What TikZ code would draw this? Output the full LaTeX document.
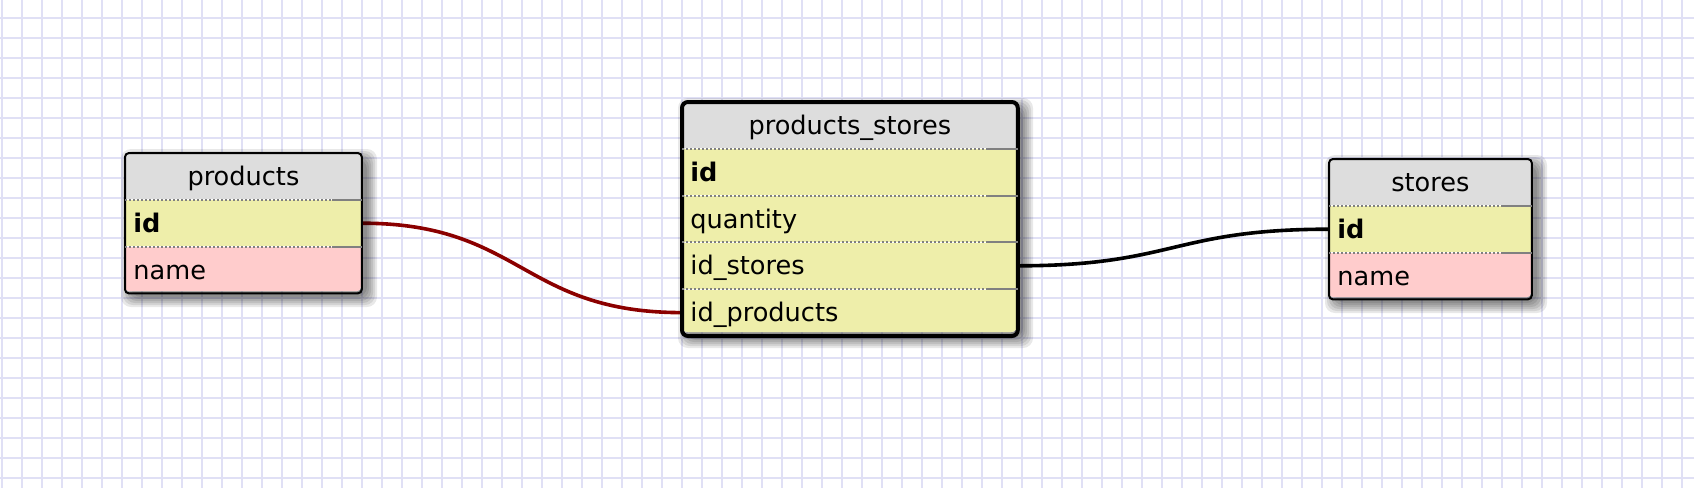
\documentclass[tikz,border=0pt]{standalone}
\usepackage{fontspec}
\setmainfont{DejaVu Sans}
\usetikzlibrary{positioning}

\definecolor{lavanda}{RGB}{224,224,245}
\definecolor{testata}{RGB}{221,221,221}
\definecolor{chiave}{RGB}{238,238,170}
\definecolor{rosa}{RGB}{255,204,204}
\definecolor{grigiosep}{RGB}{128,128,128}
\definecolor{rossoscuro}{RGB}{139,0,0}

\pgfdeclarelayer{sfondo}
\pgfsetlayers{sfondo,main}

\tikzset{
  rete/.style={lavanda, line width=1pt},
  titolo/.style={rectangle, fill=testata, inner sep=0pt, minimum height=23pt,
    text height=10.5pt, text depth=1.5pt, anchor=north west},
  campo/.style={rectangle, inner sep=0pt, inner xsep=4pt, minimum height=23pt,
    text height=10.5pt, text depth=1.5pt, align=left},
  ombra/.style={black, fill opacity=0.09, rounded corners=5pt},
  bordo/.style={black, line width=1pt, rounded corners=2pt},
  sepdot/.style={grigiosep, line width=1pt, dash pattern=on 1pt off 1pt},
  sepline/.style={grigiosep, line width=1pt},
  rel/.style={line width=1.8pt}
}

\begin{document}
\begin{tikzpicture}[x=0.5pt,y=-0.5pt,font=\fontsize{12.8}{15}\selectfont]

\useasboundingbox (0,0) rectangle (1694,488);

\begin{pgfonlayer}{sfondo}
\fill[white] (0,0) rectangle (1694,488);
\foreach \x in {2,22,...,1682} \draw[rete] (\x,0) -- (\x,488);
\foreach \y in {18,38,...,478} \draw[rete] (0,\y) -- (1694,\y);
\end{pgfonlayer}

% products
\coordinate (p) at (125,153);
\foreach \d in {0,2,...,10} \fill[ombra] ([shift={(6-\d,6-\d)}]p) rectangle ++(236+2*\d,138+2*\d);
\fill[white, rounded corners=2pt] (p) rectangle ++(236,138);
\begin{scope}
\clip[rounded corners=2pt] (p) rectangle ++(236,138);
\node[titolo, minimum width=118pt] (p-title) at (p) {products};
\node[campo, fill=chiave, text width=110pt, below=0pt of p-title] (p-id) {\textbf{id}};
\node[campo, fill=rosa, text width=110pt, below=0pt of p-id] (p-name) {name};
\end{scope}
\draw[bordo] (p-title.north west) rectangle (p-name.south east);

% products_stores
\coordinate (ps) at (682,102);
\foreach \d in {0,2,...,10} \fill[ombra] ([shift={(6-\d,6-\d)}]ps) rectangle ++(335+2*\d,230+2*\d);
\fill[white, rounded corners=3pt] (ps) rectangle ++(335,230);
\begin{scope}
\clip[rounded corners=3pt] (ps) rectangle ++(335,230);
\node[titolo, minimum width=167.5pt] (ps-title) at (ps) {products\_stores};
\node[campo, fill=chiave, text width=159.5pt, below=0pt of ps-title] (ps-id) {\textbf{id}};
\node[campo, fill=chiave, text width=159.5pt, below=0pt of ps-id] (ps-quantity) {quantity};
\node[campo, fill=chiave, text width=159.5pt, below=0pt of ps-quantity] (ps-idstores) {id\_stores};
\node[campo, fill=chiave, text width=159.5pt, below=0pt of ps-idstores] (ps-idproducts) {id\_products};
\end{scope}
\draw[bordo, line width=2pt, rounded corners=3pt] (ps-title.north west) rectangle (ps-idproducts.south east);

% stores
\coordinate (s) at (1329,159);
\foreach \d in {0,2,...,10} \fill[ombra] ([shift={(6-\d,6-\d)}]s) rectangle ++(202+2*\d,138+2*\d);
\fill[white, rounded corners=2pt] (s) rectangle ++(202,138);
\begin{scope}
\clip[rounded corners=2pt] (s) rectangle ++(202,138);
\node[titolo, minimum width=101pt] (s-title) at (s) {stores};
\node[campo, fill=chiave, text width=93pt, below=0pt of s-title] (s-id) {\textbf{id}};
\node[campo, fill=rosa, text width=93pt, below=0pt of s-id] (s-name) {name};
\end{scope}
\draw[bordo] (s-title.north west) rectangle (s-name.south east);

% separatori tra i campi
\foreach \r in {p-id,p-name,ps-id,ps-quantity,ps-idstores,ps-idproducts,s-id,s-name} {
  \draw[sepdot] (\r.north west) -- ([xshift=-15pt]\r.north east);
  \draw[sepline] ([xshift=-15pt]\r.north east) -- (\r.north east);
}

% relazioni
\begin{pgfonlayer}{sfondo}
\draw[rel, rossoscuro] (p-id.east) .. controls +(160,0) and +(-160,0) .. (ps-idproducts.west);
\draw[rel, black] (ps-idstores.east) .. controls +(156,0) and +(-156,0) .. (s-id.west);
\end{pgfonlayer}

\end{tikzpicture}
\end{document}
